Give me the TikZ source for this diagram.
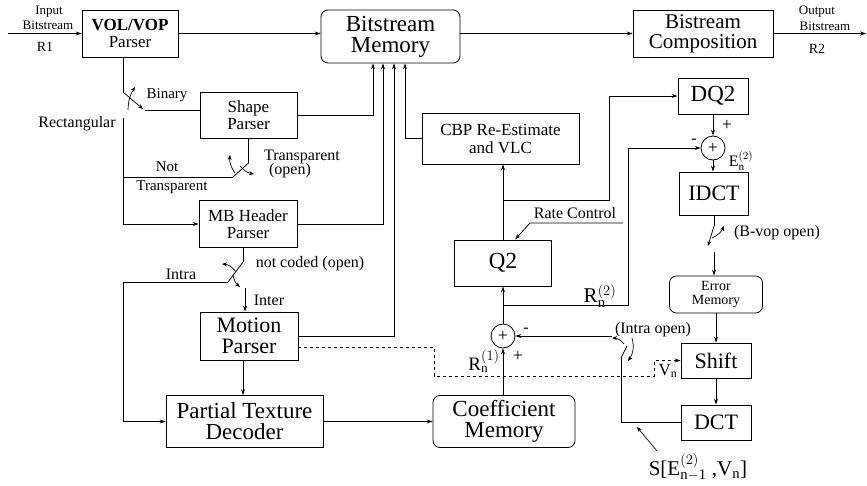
\documentclass[tikz,border=0pt]{standalone}
\usepackage{fontspec}
\setmainfont{Liberation Serif}
\usetikzlibrary{arrows.meta,calc}
\newcommand\fs[2]{\fontsize{#1}{#2}\selectfont}
\tikzset{
  box/.style={draw, line width=0.8pt, align=center, inner sep=0pt},
  rbox/.style={box, rounded corners=7pt},
  lbl/.style={inner sep=0pt, align=center},
  arr/.style={-{Stealth[length=6pt,width=4pt]}},
  sarr/.style={-{Stealth[length=5pt,width=4pt]}, line width=0.7pt},
  sumnode/.style={draw, circle, minimum size=24, inner sep=0pt, font=\fs{18}{18}},
}
\begin{document}
\begin{tikzpicture}[x=1pt,y=-1pt,line width=0.8pt]
\useasboundingbox (0,0) rectangle (867,485);
% boxes
\node[box,minimum width=96,minimum height=47,font=\fs{17}{17}] (vol) at (130,33.5) {\textbf{VOL/VOP}\\Parser};
\node[rbox,minimum width=139,minimum height=53,font=\fs{23}{21}] (bm) at (390.5,36.5) {Bitstream\\Memory};
\node[box,minimum width=140,minimum height=47,font=\fs{21}{20}] (bc) at (703,33.5) {Bistream\\Composition};
\node[box,minimum width=97,minimum height=46,font=\fs{17}{17}] (shape) at (248.5,115) {Shape\\Parser};
\node[box,minimum width=98,minimum height=47,font=\fs{17}{17}] (mbh) at (248,224) {MB Header\\Parser};
\node[box,minimum width=98,minimum height=48,font=\fs{22}{21}] (mp) at (249,336) {Motion\\Parser};
\node[box,minimum width=157,minimum height=52,font=\fs{23}{21}] (ptd) at (244.5,421.5) {Partial Texture\\Decoder};
\node[box,minimum width=157,minimum height=51,font=\fs{17}{18}] (cbp) at (500.5,138.5) {CBP Re-Estimate\\and VLC};
\node[box,minimum width=97,minimum height=46,font=\fs{23}{22}] (q2) at (503,263) {Q2};
\node[sumnode] (a1) at (503,336) {+};
\node[rbox,minimum width=142,minimum height=52,font=\fs{23}{21}] (cm) at (504,421.5) {Coefficient\\Memory};
\node[box,minimum width=70,minimum height=36,font=\fs{23}{22}] (dq2) at (713,96) {DQ2};
\node[sumnode] (a2) at (713,148) {+};
\node[box,minimum width=69,minimum height=43,font=\fs{22}{21}] (idct) at (714,193.5) {IDCT};
\node[rbox,minimum width=93,minimum height=37,font=\fs{14}{14}] (em) at (716,294.5) {Error\\Memory};
\node[box,minimum width=70,minimum height=35,font=\fs{22}{21}] (shift) at (716,360.5) {Shift};
\node[box,minimum width=70,minimum height=35,font=\fs{22}{21}] (dct) at (716,422.5) {DCT};
% coordinates
\coordinate (in) at (8,33.5);
\coordinate (out) at (866,33.5);
\coordinate (bm1) at ($(bm.south)+(-17.5,0)$);
\coordinate (bm2) at ($(bm.south)+(-7.5,0)$);
\coordinate (bm3) at ($(bm.south)+(3.5,0)$);
\coordinate (bm4) at ($(bm.south)+(14.5,0)$);
\coordinate (volb) at ($(vol.south)+(-7,0)$);
\coordinate (s1) at (123,92);
\coordinate (b1) at (145,110);
\coordinate (r1) at (123,118);
\coordinate (s2) at (248.5,163);
\coordinate (nt) at (233,177);
\coordinate (ntl) at (123,177);
\coordinate (mbhb) at ($(mbh.south)+(-5,0)$);
\coordinate (s3) at (243,262);
\coordinate (s3b) at (228,282);
\coordinate (il) at (123,282);
\coordinate (it) at (245,288);
\coordinate (mpb) at ($(mp.south)+(-6,0)$);
\coordinate (mpd) at ($(mp.east)+(0,11)$);
\coordinate (d1) at (434,347);
\coordinate (d2) at (434,376);
\coordinate (d3) at (654,376);
\coordinate (j1) at (503,305);
\coordinate (k1) at (628,305);
\coordinate (j2) at (503,200);
\coordinate (k2) at (609,200);
\coordinate (s4) at (714,226);
\coordinate (s4b) at (714,252);
\coordinate (s5) at (621,358);
\coordinate (h5) at (612,336);
\coordinate (rc1) at (623,223);
\coordinate (rc2) at (530,223);
\coordinate (q2t) at ($(q2.north)+(12,0)$);
% main line
\draw[arr] (in) -- (vol.west);
\draw[arr] (vol.east) -- (vol.east -| bm.west);
\draw[arr] (bc.west -| bm.east) -- (bc.west);
\draw[arr] (bc.east) -- (out);
% shape switch
\draw (volb) -- (s1);
\draw[sarr] (s1) -- ($(b1)+(-2,-1)$);
\draw[sarr] (128,110) to[bend left=15] (135,87);
\draw (b1) -- (b1 -| shape.west);
\draw[arr] (r1) |- (mbh.west);
% transparent switch
\draw (shape.south) -- (s2);
\draw (s2) -- (nt);
\draw (nt) -- (ntl);
\draw[sarr] (235,173) to[bend left=20] (230,155);
\draw[sarr] (240,166) to[bend right=20] (254,174);
% into bitstream memory
\draw[arr] (shape.east) -| (bm1);
\draw[arr] (mbh.east) -| (bm2);
\draw[arr] (mp.east) -| (bm3);
\draw[arr] (cbp.west) -| (bm4);
% MB header switch
\draw (mbhb) -- (s3);
\draw (s3) -- (s3b);
\draw[sarr] (236,272) to[bend right=25] (222,264);
\draw[sarr] (233,275) to[bend right=20] (240,287);
\draw[arr] (s3b) -- (il) |- (ptd.west);
\draw[arr] (it) -- (it |- mp.north);
\draw[arr] (mpb) -- (mpb |- ptd.north);
\draw[arr] (ptd.east) -- (cm.west);
% dashed motion vectors
\draw[arr,dashed] (mpd) -- (d1) -- (d2) -- (d3) |- (shift.west);
% re-quantisation loop
\draw[arr] (a1 |- cm.north) -- (a1.south);
\draw[arr] (a1.north) -- (a1.north |- q2.south);
\draw[arr] (q2.north) -- (q2.north |- cbp.south);
\draw[arr] (j1) -- (k1) |- (a2.west);
\draw[arr] (j2) -- (k2) |- (dq2.west);
\draw[arr] (rc1) -- (rc2) -- (q2t);
\draw[arr] (dq2.south) -- (a2.north);
\draw[arr] (a2.south) -- (a2.south |- idct.north);
% B-vop switch
\draw (idct.south -| s4) -- (s4);
\draw[sarr] (s4) -- (708,246);
\draw[sarr] (712,238) to[bend right=20] (724,226);
\draw[arr] (s4b) -- (s4b |- em.north);
\draw[arr] (em.south) -- (shift.north);
\draw[arr] (shift.south) -- (dct.north);
% intra switch
\draw (dct.west) -| (s5);
\draw (s5) -- (627,346);
\draw[sarr] (624,344) to[bend right=25] (612,338);
\draw[sarr] (632,338) to[bend left=25] (628,361);
\draw[arr] (h5) -- (a1.east);
\coordinate (sl) at (657,451);
\coordinate (st) at (637,427);
\draw[sarr] (sl) -- (st);
% labels
\node[lbl,font=\fs{13}{13}] at (49,12) {Input};
\node[lbl,font=\fs{13}{13}] at (48,25) {Bitstream};
\node[lbl,font=\fs{14}{14}] at (45,47) {R1};
\node[lbl,font=\fs{13}{13}] at (817,12) {Output};
\node[lbl,font=\fs{13}{13}] at (825,26) {Bitstream};
\node[lbl,font=\fs{14}{14}] at (817,49) {R2};
\node[lbl,font=\fs{15}{15}] at (167,95) {Binary};
\node[lbl,font=\fs{16}{16}] at (77,124) {Rectangular};
\node[lbl,font=\fs{15}{15}] at (167,167) {Not};
\node[lbl,font=\fs{15}{15}] at (172,187) {Transparent};
\node[lbl,font=\fs{16}{16}] at (302,157) {Transparent};
\node[lbl,font=\fs{16}{16}] at (290,171) {(open)};
\node[lbl,font=\fs{16}{16}] at (181,274) {Intra};
\node[lbl,font=\fs{16}{16}] at (310,264) {not coded (open)};
\node[lbl,font=\fs{16}{16}] at (269,300) {Inter};
\node[lbl,font=\fs{16}{16}] at (575,213) {Rate Control};
\node[lbl,font=\fs{21}{21}] at (600,296) {R$^{(2)}_{\mathrm{n}}$};
\node[lbl,font=\fs{19}{19}] at (484,361) {R$^{(1)}_{\mathrm{n}}$};
\node[lbl,font=\fs{18}{18}] at (518,356) {+};
\node[lbl,font=\fs{16}{16}] at (526,330) {-};
\node[lbl,font=\fs{16}{16}] at (653,330) {(Intra open)};
\node[lbl,font=\fs{18}{18}] at (727,125) {+};
\node[lbl,font=\fs{16}{16}] at (694,141) {-};
\node[lbl,font=\fs{16}{16}] at (741,161) {E$^{(2)}_{\mathrm{n}}$};
\node[lbl,font=\fs{16}{16}] at (777,233) {(B-vop open)};
\node[lbl,font=\fs{17}{17}] at (668,371) {V$_{\mathrm{n}}$};
\node[lbl,font=\fs{21}{21}] at (698,467) {S[E$^{(2)}_{\mathrm{n-1}}$ ,V$_{\mathrm{n}}$]};
\end{tikzpicture}
\end{document}
